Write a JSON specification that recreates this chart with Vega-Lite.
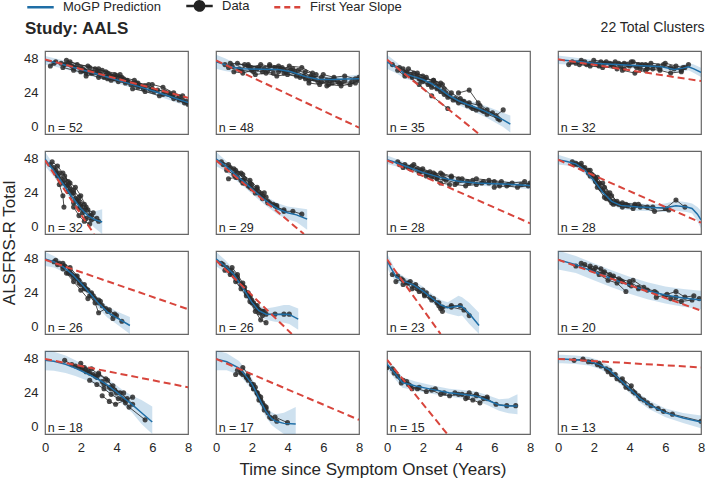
{
"$schema": "https://vega.github.io/schema/vega-lite/v6.json",
"padding": {"left": 0, "top": -9, "right": 4, "bottom": 0},
"title": {"text": "Study: AALS", "anchor": "start", "fontSize": 17, "fontWeight": "bold", "color": "#262626", "dy": 51, "dx": 24},
"data": {"values": [
{"k":"n","r":1,"c":1,"n":"n = 52"},{"k":"n","r":1,"c":2,"n":"n = 48"},{"k":"n","r":1,"c":3,"n":"n = 35"},{"k":"n","r":1,"c":4,"n":"n = 32"},
{"k":"n","r":2,"c":1,"n":"n = 32"},{"k":"n","r":2,"c":2,"n":"n = 29"},{"k":"n","r":2,"c":3,"n":"n = 28"},{"k":"n","r":2,"c":4,"n":"n = 28"},
{"k":"n","r":3,"c":1,"n":"n = 26"},{"k":"n","r":3,"c":2,"n":"n = 26"},{"k":"n","r":3,"c":3,"n":"n = 23"},{"k":"n","r":3,"c":4,"n":"n = 20"},
{"k":"n","r":4,"c":1,"n":"n = 18"},{"k":"n","r":4,"c":2,"n":"n = 17"},{"k":"n","r":4,"c":3,"n":"n = 15"},{"k":"n","r":4,"c":4,"n":"n = 13"},

{"k":"s","r":1,"c":1,"x":0,"s":47.7},{"k":"s","r":1,"c":1,"x":8,"s":20.6},
{"k":"s","r":1,"c":2,"x":0,"s":47},{"k":"s","r":1,"c":2,"x":8,"s":-0.5},
{"k":"s","r":1,"c":3,"x":0,"s":47.5},{"k":"s","r":1,"c":3,"x":5.15,"s":-5},
{"k":"s","r":1,"c":4,"x":0,"s":47.7},{"k":"s","r":1,"c":4,"x":8,"s":32.4},
{"k":"s","r":2,"c":1,"x":0,"s":47},{"k":"s","r":2,"c":1,"x":2.74,"s":-5},
{"k":"s","r":2,"c":2,"x":0,"s":47},{"k":"s","r":2,"c":2,"x":4.92,"s":-5},
{"k":"s","r":2,"c":3,"x":0,"s":47},{"k":"s","r":2,"c":3,"x":8,"s":2.6},
{"k":"s","r":2,"c":4,"x":0,"s":47.5},{"k":"s","r":2,"c":4,"x":8,"s":3},
{"k":"s","r":3,"c":1,"x":0,"s":47.5},{"k":"s","r":3,"c":1,"x":8,"s":12.5},
{"k":"s","r":3,"c":2,"x":0,"s":47},{"k":"s","r":3,"c":2,"x":4.24,"s":-5},
{"k":"s","r":3,"c":3,"x":0,"s":47.7},{"k":"s","r":3,"c":3,"x":3.0,"s":-5},
{"k":"s","r":3,"c":4,"x":0,"s":47.5},{"k":"s","r":3,"c":4,"x":8,"s":11.5},
{"k":"s","r":4,"c":1,"x":0,"s":48},{"k":"s","r":4,"c":1,"x":8,"s":28},
{"k":"s","r":4,"c":2,"x":0,"s":48},{"k":"s","r":4,"c":2,"x":8,"s":5},
{"k":"s","r":4,"c":3,"x":0,"s":47.5},{"k":"s","r":4,"c":3,"x":3.37,"s":-5},
{"k":"s","r":4,"c":4,"x":0,"s":48},{"k":"s","r":4,"c":4,"x":8,"s":42},

{"k":"b","r":1,"c":1,"x":0,"m":47,"lo":44,"hi":50},{"k":"b","r":1,"c":1,"x":1,"m":44,"lo":41.3,"hi":47},{"k":"b","r":1,"c":1,"x":2,"m":40.5,"lo":37.8,"hi":43.2},{"k":"b","r":1,"c":1,"x":3,"m":37,"lo":34.4,"hi":39.6},{"k":"b","r":1,"c":1,"x":4,"m":33.3,"lo":30.8,"hi":35.8},{"k":"b","r":1,"c":1,"x":5,"m":29.5,"lo":27,"hi":32},{"k":"b","r":1,"c":1,"x":6,"m":25.5,"lo":23,"hi":28},{"k":"b","r":1,"c":1,"x":7,"m":21.5,"lo":18.8,"hi":24.2},{"k":"b","r":1,"c":1,"x":8,"m":17.2,"lo":14.2,"hi":20.2},

{"k":"b","r":1,"c":2,"x":0,"m":46,"lo":41,"hi":51},{"k":"b","r":1,"c":2,"x":0.5,"m":44,"lo":39.5,"hi":48.5},{"k":"b","r":1,"c":2,"x":1,"m":42,"lo":38.5,"hi":45.5},{"k":"b","r":1,"c":2,"x":1.5,"m":41,"lo":38.2,"hi":43.8},{"k":"b","r":1,"c":2,"x":2.5,"m":40.7,"lo":38.4,"hi":43},{"k":"b","r":1,"c":2,"x":3.5,"m":40.6,"lo":38.4,"hi":42.8},{"k":"b","r":1,"c":2,"x":4.2,"m":39,"lo":36.7,"hi":41.3},{"k":"b","r":1,"c":2,"x":5,"m":35.5,"lo":33.2,"hi":37.8},{"k":"b","r":1,"c":2,"x":5.7,"m":33.6,"lo":31.4,"hi":35.8},{"k":"b","r":1,"c":2,"x":6.5,"m":33.4,"lo":31.2,"hi":35.6},{"k":"b","r":1,"c":2,"x":7.3,"m":33.8,"lo":31.6,"hi":36},{"k":"b","r":1,"c":2,"x":8,"m":34,"lo":31,"hi":37},

{"k":"b","r":1,"c":3,"x":0,"m":46,"lo":41,"hi":51},{"k":"b","r":1,"c":3,"x":0.5,"m":42,"lo":38,"hi":46},{"k":"b","r":1,"c":3,"x":1,"m":37.5,"lo":34,"hi":41},{"k":"b","r":1,"c":3,"x":1.5,"m":35.5,"lo":32.5,"hi":38.5},{"k":"b","r":1,"c":3,"x":2,"m":33.5,"lo":30.5,"hi":36.5},{"k":"b","r":1,"c":3,"x":2.5,"m":30.5,"lo":27.5,"hi":33.5},{"k":"b","r":1,"c":3,"x":3,"m":26.5,"lo":23.5,"hi":29.5},{"k":"b","r":1,"c":3,"x":3.5,"m":22,"lo":19,"hi":25},{"k":"b","r":1,"c":3,"x":4,"m":18.5,"lo":15.5,"hi":21.5},{"k":"b","r":1,"c":3,"x":4.5,"m":15.8,"lo":12.6,"hi":19},{"k":"b","r":1,"c":3,"x":5,"m":13.5,"lo":10,"hi":17},{"k":"b","r":1,"c":3,"x":5.5,"m":11,"lo":7,"hi":15},{"k":"b","r":1,"c":3,"x":6,"m":8,"lo":3.5,"hi":12.5},{"k":"b","r":1,"c":3,"x":6.5,"m":5,"lo":0,"hi":10},{"k":"b","r":1,"c":3,"x":6.9,"m":2,"lo":-4,"hi":8},

{"k":"b","r":1,"c":4,"x":0,"m":47.5,"lo":44.5,"hi":50.5},{"k":"b","r":1,"c":4,"x":1,"m":46.3,"lo":43.8,"hi":48.8},{"k":"b","r":1,"c":4,"x":2,"m":45,"lo":42.8,"hi":47.2},{"k":"b","r":1,"c":4,"x":3,"m":44.2,"lo":42.2,"hi":46.2},{"k":"b","r":1,"c":4,"x":4,"m":43.5,"lo":41.5,"hi":45.5},{"k":"b","r":1,"c":4,"x":5,"m":43,"lo":41,"hi":45},{"k":"b","r":1,"c":4,"x":5.8,"m":42.5,"lo":40.4,"hi":44.6},{"k":"b","r":1,"c":4,"x":6.5,"m":40.5,"lo":38.3,"hi":42.7},{"k":"b","r":1,"c":4,"x":7,"m":41.5,"lo":39,"hi":44},{"k":"b","r":1,"c":4,"x":7.3,"m":42.5,"lo":40,"hi":45},{"k":"b","r":1,"c":4,"x":7.6,"m":41,"lo":38,"hi":44},{"k":"b","r":1,"c":4,"x":8,"m":38.5,"lo":35.2,"hi":41.8},

{"k":"b","r":2,"c":1,"x":0,"m":48,"lo":43,"hi":53},{"k":"b","r":2,"c":1,"x":0.5,"m":39.5,"lo":35.5,"hi":43.5},{"k":"b","r":2,"c":1,"x":1,"m":30.5,"lo":27,"hi":34},{"k":"b","r":2,"c":1,"x":1.5,"m":21.5,"lo":18.5,"hi":24.5},{"k":"b","r":2,"c":1,"x":2,"m":13,"lo":9.5,"hi":16.5},{"k":"b","r":2,"c":1,"x":2.4,"m":8,"lo":4,"hi":12},{"k":"b","r":2,"c":1,"x":2.8,"m":5,"lo":-1,"hi":11},{"k":"b","r":2,"c":1,"x":3.2,"m":3.5,"lo":-5,"hi":12.5},

{"k":"b","r":2,"c":2,"x":0,"m":48,"lo":43,"hi":53},{"k":"b","r":2,"c":2,"x":0.5,"m":43.5,"lo":39.5,"hi":47.5},{"k":"b","r":2,"c":2,"x":1,"m":37.8,"lo":34,"hi":41.5},{"k":"b","r":2,"c":2,"x":1.5,"m":32.5,"lo":29,"hi":36},{"k":"b","r":2,"c":2,"x":2,"m":27,"lo":23.5,"hi":30.5},{"k":"b","r":2,"c":2,"x":2.5,"m":21.5,"lo":18,"hi":25},{"k":"b","r":2,"c":2,"x":3,"m":16.5,"lo":13,"hi":20},{"k":"b","r":2,"c":2,"x":3.5,"m":12.5,"lo":8.5,"hi":16.5},{"k":"b","r":2,"c":2,"x":4,"m":10,"lo":5.5,"hi":14.5},{"k":"b","r":2,"c":2,"x":4.5,"m":8.5,"lo":3.5,"hi":13.5},{"k":"b","r":2,"c":2,"x":5.1,"m":5.5,"lo":-2,"hi":12.5},

{"k":"b","r":2,"c":3,"x":0,"m":47.5,"lo":44.5,"hi":50.5},{"k":"b","r":2,"c":3,"x":0.5,"m":45.5,"lo":42.8,"hi":48.2},{"k":"b","r":2,"c":3,"x":1,"m":43,"lo":40.5,"hi":45.5},{"k":"b","r":2,"c":3,"x":2,"m":38.5,"lo":36.3,"hi":40.7},{"k":"b","r":2,"c":3,"x":3,"m":34.8,"lo":32.6,"hi":37},{"k":"b","r":2,"c":3,"x":4,"m":32.3,"lo":30.3,"hi":34.3},{"k":"b","r":2,"c":3,"x":5,"m":31,"lo":29,"hi":33},{"k":"b","r":2,"c":3,"x":6,"m":30.5,"lo":28.5,"hi":32.5},{"k":"b","r":2,"c":3,"x":7,"m":30,"lo":27.8,"hi":32.2},{"k":"b","r":2,"c":3,"x":8,"m":29.3,"lo":26.6,"hi":32},

{"k":"b","r":2,"c":4,"x":0,"m":47.5,"lo":44,"hi":51},{"k":"b","r":2,"c":4,"x":0.5,"m":46.2,"lo":43.4,"hi":49},{"k":"b","r":2,"c":4,"x":1,"m":44.5,"lo":42,"hi":47},{"k":"b","r":2,"c":4,"x":1.5,"m":40,"lo":37.5,"hi":42.5},{"k":"b","r":2,"c":4,"x":2,"m":33,"lo":30.5,"hi":35.5},{"k":"b","r":2,"c":4,"x":2.5,"m":24.5,"lo":22,"hi":27},{"k":"b","r":2,"c":4,"x":3,"m":18,"lo":15.5,"hi":20.5},{"k":"b","r":2,"c":4,"x":3.5,"m":15.2,"lo":12.6,"hi":17.8},{"k":"b","r":2,"c":4,"x":4.5,"m":14,"lo":11.5,"hi":16.5},{"k":"b","r":2,"c":4,"x":5.5,"m":13.5,"lo":11,"hi":16},{"k":"b","r":2,"c":4,"x":6,"m":13.5,"lo":10.5,"hi":16.5},{"k":"b","r":2,"c":4,"x":6.6,"m":15,"lo":11.5,"hi":18.5},{"k":"b","r":2,"c":4,"x":7.2,"m":14,"lo":10.5,"hi":17.5},{"k":"b","r":2,"c":4,"x":7.5,"m":13,"lo":9.5,"hi":16.5},{"k":"b","r":2,"c":4,"x":7.8,"m":9,"lo":4,"hi":14},{"k":"b","r":2,"c":4,"x":8,"m":5,"lo":-1,"hi":11.5},

{"k":"b","r":3,"c":1,"x":0,"m":48,"lo":43,"hi":53},{"k":"b","r":3,"c":1,"x":0.5,"m":46,"lo":42,"hi":50},{"k":"b","r":3,"c":1,"x":1,"m":42.5,"lo":39,"hi":46},{"k":"b","r":3,"c":1,"x":1.5,"m":37.5,"lo":34.5,"hi":40.5},{"k":"b","r":3,"c":1,"x":2,"m":31,"lo":28,"hi":34},{"k":"b","r":3,"c":1,"x":2.5,"m":24,"lo":21,"hi":27},{"k":"b","r":3,"c":1,"x":3,"m":16.5,"lo":13,"hi":20},{"k":"b","r":3,"c":1,"x":3.5,"m":10.5,"lo":6.5,"hi":14.5},{"k":"b","r":3,"c":1,"x":4,"m":6.5,"lo":2,"hi":11},{"k":"b","r":3,"c":1,"x":4.75,"m":1,"lo":-5,"hi":7},

{"k":"b","r":3,"c":2,"x":0,"m":48,"lo":43,"hi":53},{"k":"b","r":3,"c":2,"x":0.5,"m":43,"lo":38.5,"hi":47.5},{"k":"b","r":3,"c":2,"x":1,"m":37,"lo":33.5,"hi":40.5},{"k":"b","r":3,"c":2,"x":1.5,"m":27.5,"lo":24,"hi":31},{"k":"b","r":3,"c":2,"x":2,"m":17.5,"lo":14,"hi":21},{"k":"b","r":3,"c":2,"x":2.4,"m":11.5,"lo":8,"hi":15},{"k":"b","r":3,"c":2,"x":2.8,"m":9,"lo":5,"hi":13},{"k":"b","r":3,"c":2,"x":3.3,"m":8.8,"lo":3.6,"hi":14},{"k":"b","r":3,"c":2,"x":3.8,"m":9,"lo":3,"hi":15.5},{"k":"b","r":3,"c":2,"x":4.1,"m":8.8,"lo":2,"hi":15.5},{"k":"b","r":3,"c":2,"x":4.6,"m":5.5,"lo":-2,"hi":13},

{"k":"b","r":3,"c":3,"x":0,"m":47,"lo":42,"hi":52},{"k":"b","r":3,"c":3,"x":0.2,"m":42,"lo":37,"hi":47},{"k":"b","r":3,"c":3,"x":0.5,"m":35.5,"lo":31.5,"hi":39.5},{"k":"b","r":3,"c":3,"x":1,"m":32,"lo":29,"hi":35},{"k":"b","r":3,"c":3,"x":1.5,"m":29.5,"lo":26.5,"hi":32.5},{"k":"b","r":3,"c":3,"x":2,"m":25.5,"lo":22.5,"hi":28.5},{"k":"b","r":3,"c":3,"x":2.5,"m":20.5,"lo":17.5,"hi":23.5},{"k":"b","r":3,"c":3,"x":3,"m":15.5,"lo":12,"hi":19},{"k":"b","r":3,"c":3,"x":3.4,"m":13.5,"lo":9.5,"hi":17.5},{"k":"b","r":3,"c":3,"x":4,"m":14.8,"lo":7.6,"hi":22},{"k":"b","r":3,"c":3,"x":4.2,"m":14.5,"lo":8,"hi":21},{"k":"b","r":3,"c":3,"x":4.6,"m":9.5,"lo":2,"hi":17},{"k":"b","r":3,"c":3,"x":5.15,"m":1,"lo":-5,"hi":10},

{"k":"b","r":3,"c":4,"x":0,"m":47.5,"lo":40.5,"hi":54},{"k":"b","r":3,"c":4,"x":1,"m":44,"lo":38,"hi":50},{"k":"b","r":3,"c":4,"x":2,"m":39,"lo":33,"hi":45},{"k":"b","r":3,"c":4,"x":3,"m":34,"lo":28,"hi":40},{"k":"b","r":3,"c":4,"x":4,"m":29.5,"lo":23.5,"hi":35.5},{"k":"b","r":3,"c":4,"x":5,"m":25.5,"lo":19.5,"hi":31.5},{"k":"b","r":3,"c":4,"x":6,"m":22.5,"lo":16.5,"hi":28.5},{"k":"b","r":3,"c":4,"x":7,"m":20.5,"lo":14.2,"hi":26.8},{"k":"b","r":3,"c":4,"x":8,"m":19,"lo":12.5,"hi":25.5},

{"k":"b","r":4,"c":1,"x":0,"m":47,"lo":40,"hi":54},{"k":"b","r":4,"c":1,"x":0.5,"m":46.3,"lo":39.6,"hi":53},{"k":"b","r":4,"c":1,"x":1.15,"m":44.2,"lo":38,"hi":50.5},{"k":"b","r":4,"c":1,"x":1.7,"m":41.5,"lo":36,"hi":47},{"k":"b","r":4,"c":1,"x":2.28,"m":38.1,"lo":33.2,"hi":43},{"k":"b","r":4,"c":1,"x":3.02,"m":33.3,"lo":28.8,"hi":37.8},{"k":"b","r":4,"c":1,"x":3.5,"m":29.5,"lo":25,"hi":34},{"k":"b","r":4,"c":1,"x":3.95,"m":25.1,"lo":20.4,"hi":29.8},{"k":"b","r":4,"c":1,"x":4.4,"m":20.5,"lo":15.5,"hi":25.5},{"k":"b","r":4,"c":1,"x":4.88,"m":15.7,"lo":10,"hi":22},{"k":"b","r":4,"c":1,"x":5.4,"m":10,"lo":2,"hi":19},{"k":"b","r":4,"c":1,"x":6,"m":3.5,"lo":-5,"hi":14.5},

{"k":"b","r":4,"c":2,"x":0,"m":48,"lo":40,"hi":54},{"k":"b","r":4,"c":2,"x":0.6,"m":46,"lo":40,"hi":52},{"k":"b","r":4,"c":2,"x":1.29,"m":41.6,"lo":36.7,"hi":46.5},{"k":"b","r":4,"c":2,"x":1.7,"m":35.5,"lo":31,"hi":40},{"k":"b","r":4,"c":2,"x":2.03,"m":29.9,"lo":25.8,"hi":34},{"k":"b","r":4,"c":2,"x":2.4,"m":20.5,"lo":16.5,"hi":24.5},{"k":"b","r":4,"c":2,"x":2.78,"m":11.1,"lo":7.2,"hi":15},{"k":"b","r":4,"c":2,"x":3.1,"m":6,"lo":1.5,"hi":10.5},{"k":"b","r":4,"c":2,"x":3.34,"m":4,"lo":-1,"hi":9},{"k":"b","r":4,"c":2,"x":3.8,"m":2.5,"lo":-5,"hi":10},{"k":"b","r":4,"c":2,"x":4.46,"m":2.1,"lo":-5,"hi":14},

{"k":"b","r":4,"c":3,"x":0,"m":44.5,"lo":41,"hi":48},{"k":"b","r":4,"c":3,"x":0.4,"m":38.5,"lo":34.5,"hi":42.5},{"k":"b","r":4,"c":3,"x":0.86,"m":31.3,"lo":27.6,"hi":35},{"k":"b","r":4,"c":3,"x":1.6,"m":28.9,"lo":25.8,"hi":32},{"k":"b","r":4,"c":3,"x":2.5,"m":26.5,"lo":23.5,"hi":29.5},{"k":"b","r":4,"c":3,"x":3.47,"m":24.2,"lo":21.4,"hi":27},{"k":"b","r":4,"c":3,"x":4.2,"m":23,"lo":20,"hi":26},{"k":"b","r":4,"c":3,"x":4.96,"m":21.9,"lo":18.8,"hi":25},{"k":"b","r":4,"c":3,"x":5.6,"m":19,"lo":15.5,"hi":22.5},{"k":"b","r":4,"c":3,"x":6.27,"m":15.5,"lo":11.5,"hi":19.5},{"k":"b","r":4,"c":3,"x":6.8,"m":14.8,"lo":9.6,"hi":20},{"k":"b","r":4,"c":3,"x":7.3,"m":14.8,"lo":9,"hi":23},

{"k":"b","r":4,"c":4,"x":0,"m":48,"lo":45,"hi":51},{"k":"b","r":4,"c":4,"x":0.24,"m":48,"lo":45,"hi":51},{"k":"b","r":4,"c":4,"x":1,"m":47.5,"lo":44.5,"hi":50.5},{"k":"b","r":4,"c":4,"x":1.73,"m":46.3,"lo":43.3,"hi":49.3},{"k":"b","r":4,"c":4,"x":2.3,"m":44,"lo":41,"hi":47},{"k":"b","r":4,"c":4,"x":2.85,"m":40.4,"lo":37.4,"hi":43.4},{"k":"b","r":4,"c":4,"x":3.5,"m":33,"lo":30,"hi":36},{"k":"b","r":4,"c":4,"x":4.16,"m":25.1,"lo":22.1,"hi":28.1},{"k":"b","r":4,"c":4,"x":4.6,"m":20,"lo":17,"hi":23},{"k":"b","r":4,"c":4,"x":5.09,"m":15.7,"lo":12.7,"hi":18.7},{"k":"b","r":4,"c":4,"x":6.02,"m":9.9,"lo":6.8,"hi":13},{"k":"b","r":4,"c":4,"x":7,"m":6.3,"lo":2.8,"hi":9.8},{"k":"b","r":4,"c":4,"x":8,"m":3.5,"lo":-1,"hi":8},

{"k":"d","r":1,"c":1,"i":"a","x":0.3,"y":43},{"k":"d","r":1,"c":1,"i":"a","x":0.6,"y":46},{"k":"d","r":1,"c":1,"i":"a","x":1.1,"y":44},{"k":"d","r":1,"c":1,"i":"a","x":1.6,"y":42},{"k":"d","r":1,"c":1,"i":"a","x":2.2,"y":40},
{"k":"d","r":1,"c":1,"i":"b","x":0.9,"y":45},{"k":"d","r":1,"c":1,"i":"b","x":1.5,"y":43},{"k":"d","r":1,"c":1,"i":"b","x":2.0,"y":42},{"k":"d","r":1,"c":1,"i":"b","x":2.6,"y":39},{"k":"d","r":1,"c":1,"i":"b","x":3.1,"y":37},{"k":"d","r":1,"c":1,"i":"b","x":3.7,"y":36},
{"k":"d","r":1,"c":1,"i":"c","x":1.2,"y":47},{"k":"d","r":1,"c":1,"i":"c","x":1.8,"y":44},{"k":"d","r":1,"c":1,"i":"c","x":2.4,"y":43},{"k":"d","r":1,"c":1,"i":"c","x":3.0,"y":41},{"k":"d","r":1,"c":1,"i":"c","x":3.5,"y":38},
{"k":"d","r":1,"c":1,"i":"d","x":2.0,"y":39},{"k":"d","r":1,"c":1,"i":"d","x":2.6,"y":38},{"k":"d","r":1,"c":1,"i":"d","x":3.3,"y":35},{"k":"d","r":1,"c":1,"i":"d","x":3.9,"y":34},{"k":"d","r":1,"c":1,"i":"d","x":4.5,"y":31},{"k":"d","r":1,"c":1,"i":"d","x":5.0,"y":30},
{"k":"d","r":1,"c":1,"i":"e","x":2.8,"y":41},{"k":"d","r":1,"c":1,"i":"e","x":3.4,"y":39},{"k":"d","r":1,"c":1,"i":"e","x":4.0,"y":36},{"k":"d","r":1,"c":1,"i":"e","x":4.6,"y":33},{"k":"d","r":1,"c":1,"i":"e","x":5.2,"y":31},
{"k":"d","r":1,"c":1,"i":"f","x":3.5,"y":34},{"k":"d","r":1,"c":1,"i":"f","x":4.1,"y":32},{"k":"d","r":1,"c":1,"i":"f","x":4.8,"y":30},{"k":"d","r":1,"c":1,"i":"f","x":5.5,"y":27},{"k":"d","r":1,"c":1,"i":"f","x":6.1,"y":25},
{"k":"d","r":1,"c":1,"i":"g","x":4.3,"y":35},{"k":"d","r":1,"c":1,"i":"g","x":5.0,"y":33},{"k":"d","r":1,"c":1,"i":"g","x":5.6,"y":29},{"k":"d","r":1,"c":1,"i":"g","x":6.3,"y":26},{"k":"d","r":1,"c":1,"i":"g","x":6.9,"y":24},{"k":"d","r":1,"c":1,"i":"g","x":7.5,"y":21},
{"k":"d","r":1,"c":1,"i":"h","x":5.2,"y":28},{"k":"d","r":1,"c":1,"i":"h","x":5.9,"y":26},{"k":"d","r":1,"c":1,"i":"h","x":6.6,"y":23},{"k":"d","r":1,"c":1,"i":"h","x":7.2,"y":20},{"k":"d","r":1,"c":1,"i":"h","x":7.8,"y":17},{"k":"d","r":1,"c":1,"i":"h","x":8.0,"y":16},
{"k":"d","r":1,"c":1,"i":"i","x":1.0,"y":42},{"k":"d","r":1,"c":1,"i":"i","x":1.6,"y":40},{"k":"d","r":1,"c":1,"i":"i","x":2.3,"y":38},{"k":"d","r":1,"c":1,"i":"i","x":3.0,"y":35},{"k":"d","r":1,"c":1,"i":"i","x":3.7,"y":33},
{"k":"d","r":1,"c":1,"i":"j","x":6.0,"y":30},{"k":"d","r":1,"c":1,"i":"j","x":6.6,"y":28},{"k":"d","r":1,"c":1,"i":"j","x":7.2,"y":24},{"k":"d","r":1,"c":1,"i":"j","x":7.7,"y":22},
{"k":"d","r":1,"c":1,"i":"k","x":3.9,"y":37},{"k":"d","r":1,"c":1,"i":"k","x":4.4,"y":34},{"k":"d","r":1,"c":1,"i":"k","x":5.1,"y":31},{"k":"d","r":1,"c":1,"i":"k","x":5.8,"y":30},
{"k":"d","r":1,"c":1,"i":"l","x":7.0,"y":23},{"k":"d","r":1,"c":1,"i":"l","x":7.5,"y":19},{"k":"d","r":1,"c":1,"i":"l","x":7.9,"y":18},
{"k":"d","r":1,"c":1,"i":"m","x":0.5,"y":45},{"k":"d","r":1,"c":1,"i":"m","x":1.3,"y":45},{"k":"d","r":1,"c":1,"i":"m","x":2.1,"y":41},{"k":"d","r":1,"c":1,"i":"m","x":2.9,"y":39},{"k":"d","r":1,"c":1,"i":"m","x":3.6,"y":37},{"k":"d","r":1,"c":1,"i":"m","x":4.2,"y":35},
{"k":"d","r":1,"c":1,"i":"n","x":2.3,"y":36},{"k":"d","r":1,"c":1,"i":"n","x":3.0,"y":38},{"k":"d","r":1,"c":1,"i":"n","x":3.8,"y":35},{"k":"d","r":1,"c":1,"i":"n","x":4.6,"y":32},{"k":"d","r":1,"c":1,"i":"n","x":5.3,"y":29},{"k":"d","r":1,"c":1,"i":"n","x":6.0,"y":27},{"k":"d","r":1,"c":1,"i":"n","x":6.7,"y":25},
{"k":"d","r":1,"c":1,"i":"o","x":4.9,"y":27},{"k":"d","r":1,"c":1,"i":"o","x":5.6,"y":25},{"k":"d","r":1,"c":1,"i":"o","x":6.4,"y":22},{"k":"d","r":1,"c":1,"i":"o","x":7.1,"y":22},{"k":"d","r":1,"c":1,"i":"o","x":7.7,"y":19},
{"k":"d","r":1,"c":1,"i":"p","x":1.4,"y":46},{"k":"d","r":1,"c":1,"i":"p","x":2.5,"y":42},{"k":"d","r":1,"c":1,"i":"p","x":3.2,"y":40},{"k":"d","r":1,"c":1,"i":"p","x":4.2,"y":37},

{"k":"d","r":1,"c":2,"i":"a","x":0.5,"y":44},{"k":"d","r":1,"c":2,"i":"a","x":0.9,"y":43},{"k":"d","r":1,"c":2,"i":"a","x":1.3,"y":41},{"k":"d","r":1,"c":2,"i":"a","x":1.8,"y":43},{"k":"d","r":1,"c":2,"i":"a","x":2.3,"y":41},
{"k":"d","r":1,"c":2,"i":"b","x":1.0,"y":39},{"k":"d","r":1,"c":2,"i":"b","x":1.5,"y":38},{"k":"d","r":1,"c":2,"i":"b","x":2.0,"y":40},{"k":"d","r":1,"c":2,"i":"b","x":2.6,"y":39},{"k":"d","r":1,"c":2,"i":"b","x":3.2,"y":38},
{"k":"d","r":1,"c":2,"i":"c","x":1.8,"y":44},{"k":"d","r":1,"c":2,"i":"c","x":2.4,"y":42},{"k":"d","r":1,"c":2,"i":"c","x":3.0,"y":43},{"k":"d","r":1,"c":2,"i":"c","x":3.6,"y":41},{"k":"d","r":1,"c":2,"i":"c","x":4.2,"y":40},
{"k":"d","r":1,"c":2,"i":"d","x":2.2,"y":37},{"k":"d","r":1,"c":2,"i":"d","x":2.8,"y":38},{"k":"d","r":1,"c":2,"i":"d","x":3.4,"y":36},{"k":"d","r":1,"c":2,"i":"d","x":4.0,"y":37},{"k":"d","r":1,"c":2,"i":"d","x":4.7,"y":35},
{"k":"d","r":1,"c":2,"i":"e","x":3.0,"y":44},{"k":"d","r":1,"c":2,"i":"e","x":3.7,"y":42},{"k":"d","r":1,"c":2,"i":"e","x":4.3,"y":41},{"k":"d","r":1,"c":2,"i":"e","x":5.0,"y":39},{"k":"d","r":1,"c":2,"i":"e","x":5.6,"y":37},
{"k":"d","r":1,"c":2,"i":"f","x":3.8,"y":38},{"k":"d","r":1,"c":2,"i":"f","x":4.5,"y":36},{"k":"d","r":1,"c":2,"i":"f","x":5.2,"y":33},{"k":"d","r":1,"c":2,"i":"f","x":5.9,"y":32},{"k":"d","r":1,"c":2,"i":"f","x":6.5,"y":31},
{"k":"d","r":1,"c":2,"i":"g","x":4.6,"y":40},{"k":"d","r":1,"c":2,"i":"g","x":5.3,"y":36},{"k":"d","r":1,"c":2,"i":"g","x":5.9,"y":35},{"k":"d","r":1,"c":2,"i":"g","x":6.6,"y":34},{"k":"d","r":1,"c":2,"i":"g","x":7.2,"y":33},
{"k":"d","r":1,"c":2,"i":"h","x":5.2,"y":31},{"k":"d","r":1,"c":2,"i":"h","x":5.8,"y":30},{"k":"d","r":1,"c":2,"i":"h","x":6.4,"y":33},{"k":"d","r":1,"c":2,"i":"h","x":7.0,"y":31},{"k":"d","r":1,"c":2,"i":"h","x":7.6,"y":32},
{"k":"d","r":1,"c":2,"i":"i","x":6.0,"y":37},{"k":"d","r":1,"c":2,"i":"i","x":6.6,"y":35},{"k":"d","r":1,"c":2,"i":"i","x":7.2,"y":36},{"k":"d","r":1,"c":2,"i":"i","x":7.8,"y":34},{"k":"d","r":1,"c":2,"i":"i","x":8.0,"y":35},
{"k":"d","r":1,"c":2,"i":"j","x":1.2,"y":45},{"k":"d","r":1,"c":2,"i":"j","x":1.9,"y":42},{"k":"d","r":1,"c":2,"i":"j","x":2.5,"y":44},{"k":"d","r":1,"c":2,"i":"j","x":3.3,"y":42},
{"k":"d","r":1,"c":2,"i":"k","x":6.2,"y":29},{"k":"d","r":1,"c":2,"i":"k","x":6.9,"y":31},{"k":"d","r":1,"c":2,"i":"k","x":7.5,"y":30},{"k":"d","r":1,"c":2,"i":"k","x":8.0,"y":33},
{"k":"d","r":1,"c":2,"i":"l","x":0.7,"y":42},{"k":"d","r":1,"c":2,"i":"l","x":1.4,"y":40},{"k":"d","r":1,"c":2,"i":"l","x":2.1,"y":39},
{"k":"d","r":1,"c":2,"i":"m","x":0.8,"y":45},{"k":"d","r":1,"c":2,"i":"m","x":1.6,"y":44},{"k":"d","r":1,"c":2,"i":"m","x":2.7,"y":41},{"k":"d","r":1,"c":2,"i":"m","x":3.5,"y":43},{"k":"d","r":1,"c":2,"i":"m","x":4.4,"y":39},{"k":"d","r":1,"c":2,"i":"m","x":5.4,"y":35},
{"k":"d","r":1,"c":2,"i":"n","x":2.9,"y":40},{"k":"d","r":1,"c":2,"i":"n","x":3.9,"y":39},{"k":"d","r":1,"c":2,"i":"n","x":4.9,"y":36},{"k":"d","r":1,"c":2,"i":"n","x":5.5,"y":34},{"k":"d","r":1,"c":2,"i":"n","x":6.2,"y":33},{"k":"d","r":1,"c":2,"i":"n","x":6.8,"y":32},
{"k":"d","r":1,"c":2,"i":"o","x":5.0,"y":34},{"k":"d","r":1,"c":2,"i":"o","x":5.7,"y":32},{"k":"d","r":1,"c":2,"i":"o","x":6.3,"y":30},{"k":"d","r":1,"c":2,"i":"o","x":7.0,"y":29},{"k":"d","r":1,"c":2,"i":"o","x":7.8,"y":31},
{"k":"d","r":1,"c":2,"i":"p","x":3.5,"y":39},{"k":"d","r":1,"c":2,"i":"p","x":4.1,"y":43},{"k":"d","r":1,"c":2,"i":"p","x":4.8,"y":42},{"k":"d","r":1,"c":2,"i":"p","x":5.4,"y":38},

{"k":"d","r":1,"c":3,"i":"a","x":0.3,"y":44},{"k":"d","r":1,"c":3,"i":"a","x":0.7,"y":42},{"k":"d","r":1,"c":3,"i":"a","x":1.1,"y":39},{"k":"d","r":1,"c":3,"i":"a","x":1.5,"y":38},{"k":"d","r":1,"c":3,"i":"a","x":2.0,"y":36},
{"k":"d","r":1,"c":3,"i":"b","x":0.6,"y":40},{"k":"d","r":1,"c":3,"i":"b","x":1.0,"y":36},{"k":"d","r":1,"c":3,"i":"b","x":1.4,"y":35},{"k":"d","r":1,"c":3,"i":"b","x":1.9,"y":33},{"k":"d","r":1,"c":3,"i":"b","x":2.4,"y":31},{"k":"d","r":1,"c":3,"i":"b","x":2.9,"y":29},
{"k":"d","r":1,"c":3,"i":"c","x":1.2,"y":41},{"k":"d","r":1,"c":3,"i":"c","x":1.7,"y":38},{"k":"d","r":1,"c":3,"i":"c","x":2.2,"y":35},{"k":"d","r":1,"c":3,"i":"c","x":2.7,"y":31},{"k":"d","r":1,"c":3,"i":"c","x":3.2,"y":27},
{"k":"d","r":1,"c":3,"i":"d","x":1.8,"y":34},{"k":"d","r":1,"c":3,"i":"d","x":2.3,"y":30},{"k":"d","r":1,"c":3,"i":"d","x":2.8,"y":27},{"k":"d","r":1,"c":3,"i":"d","x":3.3,"y":24},{"k":"d","r":1,"c":3,"i":"d","x":3.8,"y":20},{"k":"d","r":1,"c":3,"i":"d","x":4.3,"y":18},
{"k":"d","r":1,"c":3,"i":"e","x":2.6,"y":33},{"k":"d","r":1,"c":3,"i":"e","x":3.1,"y":30},{"k":"d","r":1,"c":3,"i":"e","x":3.6,"y":24},{"k":"d","r":1,"c":3,"i":"e","x":4.1,"y":20},{"k":"d","r":1,"c":3,"i":"e","x":4.6,"y":17},{"k":"d","r":1,"c":3,"i":"e","x":5.2,"y":15},
{"k":"d","r":1,"c":3,"i":"f","x":3.5,"y":22},{"k":"d","r":1,"c":3,"i":"f","x":4.0,"y":17},{"k":"d","r":1,"c":3,"i":"f","x":4.5,"y":15},{"k":"d","r":1,"c":3,"i":"f","x":5.0,"y":12},{"k":"d","r":1,"c":3,"i":"f","x":5.6,"y":9},{"k":"d","r":1,"c":3,"i":"f","x":6.2,"y":6},
{"k":"d","r":1,"c":3,"i":"g","x":4.0,"y":24},{"k":"d","r":1,"c":3,"i":"g","x":4.6,"y":26},{"k":"d","r":1,"c":3,"i":"g","x":5.1,"y":17},{"k":"d","r":1,"c":3,"i":"g","x":5.6,"y":12},{"k":"d","r":1,"c":3,"i":"g","x":6.1,"y":8},{"k":"d","r":1,"c":3,"i":"g","x":6.5,"y":12},
{"k":"d","r":1,"c":3,"i":"h","x":1.0,"y":38},{"k":"d","r":1,"c":3,"i":"h","x":1.8,"y":30},{"k":"d","r":1,"c":3,"i":"h","x":2.5,"y":22},{"k":"d","r":1,"c":3,"i":"h","x":3.4,"y":13},
{"k":"d","r":1,"c":3,"i":"i","x":4.8,"y":13},{"k":"d","r":1,"c":3,"i":"i","x":5.4,"y":11},{"k":"d","r":1,"c":3,"i":"i","x":5.9,"y":10},{"k":"d","r":1,"c":3,"i":"i","x":6.3,"y":5},
{"k":"d","r":1,"c":3,"i":"j","x":0.9,"y":41},{"k":"d","r":1,"c":3,"i":"j","x":1.3,"y":37},{"k":"d","r":1,"c":3,"i":"j","x":1.7,"y":36},{"k":"d","r":1,"c":3,"i":"j","x":2.1,"y":34},{"k":"d","r":1,"c":3,"i":"j","x":2.6,"y":33},{"k":"d","r":1,"c":3,"i":"j","x":3.0,"y":31},
{"k":"d","r":1,"c":3,"i":"k","x":2.0,"y":32},{"k":"d","r":1,"c":3,"i":"k","x":2.5,"y":28},{"k":"d","r":1,"c":3,"i":"k","x":3.0,"y":25},{"k":"d","r":1,"c":3,"i":"k","x":3.4,"y":21},{"k":"d","r":1,"c":3,"i":"k","x":3.9,"y":19},{"k":"d","r":1,"c":3,"i":"k","x":4.5,"y":16},
{"k":"d","r":1,"c":3,"i":"l","x":3.2,"y":23},{"k":"d","r":1,"c":3,"i":"l","x":3.7,"y":19},{"k":"d","r":1,"c":3,"i":"l","x":4.2,"y":18},{"k":"d","r":1,"c":3,"i":"l","x":4.7,"y":14},{"k":"d","r":1,"c":3,"i":"l","x":5.3,"y":12},

{"k":"d","r":1,"c":4,"i":"a","x":0.8,"y":46},{"k":"d","r":1,"c":4,"i":"a","x":1.3,"y":47},{"k":"d","r":1,"c":4,"i":"a","x":1.8,"y":45},{"k":"d","r":1,"c":4,"i":"a","x":2.4,"y":46},{"k":"d","r":1,"c":4,"i":"a","x":3.0,"y":44},
{"k":"d","r":1,"c":4,"i":"b","x":1.2,"y":44},{"k":"d","r":1,"c":4,"i":"b","x":1.8,"y":43},{"k":"d","r":1,"c":4,"i":"b","x":2.5,"y":42},{"k":"d","r":1,"c":4,"i":"b","x":3.1,"y":43},{"k":"d","r":1,"c":4,"i":"b","x":3.7,"y":41},
{"k":"d","r":1,"c":4,"i":"c","x":2.0,"y":47},{"k":"d","r":1,"c":4,"i":"c","x":2.7,"y":46},{"k":"d","r":1,"c":4,"i":"c","x":3.4,"y":45},{"k":"d","r":1,"c":4,"i":"c","x":4.1,"y":46},{"k":"d","r":1,"c":4,"i":"c","x":4.7,"y":44},
{"k":"d","r":1,"c":4,"i":"d","x":3.0,"y":44},{"k":"d","r":1,"c":4,"i":"d","x":3.7,"y":45},{"k":"d","r":1,"c":4,"i":"d","x":4.4,"y":42},{"k":"d","r":1,"c":4,"i":"d","x":5.0,"y":43},{"k":"d","r":1,"c":4,"i":"d","x":5.7,"y":41},
{"k":"d","r":1,"c":4,"i":"e","x":4.2,"y":46},{"k":"d","r":1,"c":4,"i":"e","x":4.9,"y":44},{"k":"d","r":1,"c":4,"i":"e","x":5.6,"y":43},{"k":"d","r":1,"c":4,"i":"e","x":6.3,"y":42},{"k":"d","r":1,"c":4,"i":"e","x":6.9,"y":40},
{"k":"d","r":1,"c":4,"i":"f","x":5.0,"y":41},{"k":"d","r":1,"c":4,"i":"f","x":5.7,"y":40},{"k":"d","r":1,"c":4,"i":"f","x":6.3,"y":38},{"k":"d","r":1,"c":4,"i":"f","x":6.9,"y":39},
{"k":"d","r":1,"c":4,"i":"g","x":1.5,"y":46},{"k":"d","r":1,"c":4,"i":"g","x":2.2,"y":44},{"k":"d","r":1,"c":4,"i":"g","x":2.9,"y":45},{"k":"d","r":1,"c":4,"i":"g","x":3.5,"y":43},
{"k":"d","r":1,"c":4,"i":"h","x":6.0,"y":45},{"k":"d","r":1,"c":4,"i":"h","x":6.6,"y":43},{"k":"d","r":1,"c":4,"i":"h","x":7.0,"y":42},{"k":"d","r":1,"c":4,"i":"h","x":7.3,"y":44},
{"k":"d","r":1,"c":4,"i":"i","x":3.6,"y":40},{"k":"d","r":1,"c":4,"i":"i","x":4.3,"y":38},{"k":"d","r":1,"c":4,"i":"i","x":4.9,"y":40},
{"k":"d","r":1,"c":4,"i":"j","x":0.6,"y":44},{"k":"d","r":1,"c":4,"i":"j","x":1.0,"y":45},{"k":"d","r":1,"c":4,"i":"j","x":1.6,"y":44},{"k":"d","r":1,"c":4,"i":"j","x":2.6,"y":45},{"k":"d","r":1,"c":4,"i":"j","x":3.2,"y":46},{"k":"d","r":1,"c":4,"i":"j","x":3.9,"y":44},
{"k":"d","r":1,"c":4,"i":"k","x":4.5,"y":44},{"k":"d","r":1,"c":4,"i":"k","x":5.2,"y":45},{"k":"d","r":1,"c":4,"i":"k","x":5.9,"y":44},{"k":"d","r":1,"c":4,"i":"k","x":6.5,"y":41},{"k":"d","r":1,"c":4,"i":"k","x":7.1,"y":42},
{"k":"d","r":1,"c":4,"i":"l","x":2.3,"y":43},{"k":"d","r":1,"c":4,"i":"l","x":3.3,"y":41},{"k":"d","r":1,"c":4,"i":"l","x":4.0,"y":43},{"k":"d","r":1,"c":4,"i":"l","x":4.6,"y":41},{"k":"d","r":1,"c":4,"i":"l","x":5.3,"y":41},

{"k":"d","r":2,"c":1,"i":"a","x":0.3,"y":44},{"k":"d","r":2,"c":1,"i":"a","x":0.6,"y":40},{"k":"d","r":2,"c":1,"i":"a","x":0.9,"y":34},{"k":"d","r":2,"c":1,"i":"a","x":1.2,"y":29},{"k":"d","r":2,"c":1,"i":"a","x":1.5,"y":24},
{"k":"d","r":2,"c":1,"i":"b","x":0.5,"y":42},{"k":"d","r":2,"c":1,"i":"b","x":0.8,"y":38},{"k":"d","r":2,"c":1,"i":"b","x":1.1,"y":33},{"k":"d","r":2,"c":1,"i":"b","x":1.4,"y":27},{"k":"d","r":2,"c":1,"i":"b","x":1.7,"y":20},{"k":"d","r":2,"c":1,"i":"b","x":2.0,"y":14},
{"k":"d","r":2,"c":1,"i":"c","x":0.7,"y":36},{"k":"d","r":2,"c":1,"i":"c","x":1.0,"y":31},{"k":"d","r":2,"c":1,"i":"c","x":1.3,"y":25},{"k":"d","r":2,"c":1,"i":"c","x":1.6,"y":17},{"k":"d","r":2,"c":1,"i":"c","x":1.9,"y":13},
{"k":"d","r":2,"c":1,"i":"d","x":0.6,"y":38},{"k":"d","r":2,"c":1,"i":"d","x":0.8,"y":30},{"k":"d","r":2,"c":1,"i":"d","x":1.0,"y":22},{"k":"d","r":2,"c":1,"i":"d","x":1.06,"y":14},
{"k":"d","r":2,"c":1,"i":"e","x":1.3,"y":30},{"k":"d","r":2,"c":1,"i":"e","x":1.6,"y":24},{"k":"d","r":2,"c":1,"i":"e","x":1.9,"y":18},{"k":"d","r":2,"c":1,"i":"e","x":2.2,"y":12},{"k":"d","r":2,"c":1,"i":"e","x":2.5,"y":8},
{"k":"d","r":2,"c":1,"i":"f","x":1.8,"y":19},{"k":"d","r":2,"c":1,"i":"f","x":2.1,"y":10},{"k":"d","r":2,"c":1,"i":"f","x":2.3,"y":6},{"k":"d","r":2,"c":1,"i":"f","x":2.6,"y":5},{"k":"d","r":2,"c":1,"i":"f","x":3.0,"y":4},
{"k":"d","r":2,"c":1,"i":"g","x":1.6,"y":14},{"k":"d","r":2,"c":1,"i":"g","x":1.9,"y":8},{"k":"d","r":2,"c":1,"i":"g","x":2.2,"y":4},{"k":"d","r":2,"c":1,"i":"g","x":2.5,"y":2},
{"k":"d","r":2,"c":1,"i":"h","x":2.0,"y":16},{"k":"d","r":2,"c":1,"i":"h","x":2.3,"y":14},{"k":"d","r":2,"c":1,"i":"h","x":2.6,"y":8},{"k":"d","r":2,"c":1,"i":"h","x":2.9,"y":6},
{"k":"d","r":2,"c":1,"i":"i","x":0.4,"y":46},{"k":"d","r":2,"c":1,"i":"i","x":0.7,"y":43},{"k":"d","r":2,"c":1,"i":"i","x":1.0,"y":38},{"k":"d","r":2,"c":1,"i":"i","x":1.3,"y":32},{"k":"d","r":2,"c":1,"i":"i","x":1.6,"y":26},{"k":"d","r":2,"c":1,"i":"i","x":1.9,"y":21},{"k":"d","r":2,"c":1,"i":"i","x":2.2,"y":16},
{"k":"d","r":2,"c":1,"i":"j","x":1.1,"y":36},{"k":"d","r":2,"c":1,"i":"j","x":1.4,"y":31},{"k":"d","r":2,"c":1,"i":"j","x":1.7,"y":28},{"k":"d","r":2,"c":1,"i":"j","x":2.0,"y":22},{"k":"d","r":2,"c":1,"i":"j","x":2.4,"y":12},{"k":"d","r":2,"c":1,"i":"j","x":2.7,"y":10},

{"k":"d","r":2,"c":2,"i":"a","x":0.4,"y":44},{"k":"d","r":2,"c":2,"i":"a","x":0.8,"y":42},{"k":"d","r":2,"c":2,"i":"a","x":1.2,"y":38},{"k":"d","r":2,"c":2,"i":"a","x":1.6,"y":34},{"k":"d","r":2,"c":2,"i":"a","x":2.0,"y":30},
{"k":"d","r":2,"c":2,"i":"b","x":0.6,"y":40},{"k":"d","r":2,"c":2,"i":"b","x":1.0,"y":37},{"k":"d","r":2,"c":2,"i":"b","x":1.4,"y":33},{"k":"d","r":2,"c":2,"i":"b","x":1.8,"y":29},{"k":"d","r":2,"c":2,"i":"b","x":2.2,"y":26},{"k":"d","r":2,"c":2,"i":"b","x":2.6,"y":22},
{"k":"d","r":2,"c":2,"i":"c","x":1.0,"y":41},{"k":"d","r":2,"c":2,"i":"c","x":1.4,"y":38},{"k":"d","r":2,"c":2,"i":"c","x":1.9,"y":33},{"k":"d","r":2,"c":2,"i":"c","x":2.3,"y":28},{"k":"d","r":2,"c":2,"i":"c","x":2.8,"y":21},
{"k":"d","r":2,"c":2,"i":"d","x":1.5,"y":31},{"k":"d","r":2,"c":2,"i":"d","x":1.9,"y":28},{"k":"d","r":2,"c":2,"i":"d","x":2.4,"y":24},{"k":"d","r":2,"c":2,"i":"d","x":2.9,"y":17},{"k":"d","r":2,"c":2,"i":"d","x":3.3,"y":15},
{"k":"d","r":2,"c":2,"i":"e","x":0.7,"y":34},{"k":"d","r":2,"c":2,"i":"e","x":1.1,"y":35},{"k":"d","r":2,"c":2,"i":"e","x":1.5,"y":33},
{"k":"d","r":2,"c":2,"i":"f","x":2.2,"y":24},{"k":"d","r":2,"c":2,"i":"f","x":2.6,"y":20},{"k":"d","r":2,"c":2,"i":"f","x":3.0,"y":17},{"k":"d","r":2,"c":2,"i":"f","x":3.4,"y":14},{"k":"d","r":2,"c":2,"i":"f","x":3.8,"y":12},
{"k":"d","r":2,"c":2,"i":"g","x":3.2,"y":16},{"k":"d","r":2,"c":2,"i":"g","x":3.8,"y":11},{"k":"d","r":2,"c":2,"i":"g","x":4.3,"y":11},{"k":"d","r":2,"c":2,"i":"g","x":4.8,"y":9},
{"k":"d","r":2,"c":2,"i":"h","x":0.3,"y":46},{"k":"d","r":2,"c":2,"i":"h","x":0.7,"y":44},{"k":"d","r":2,"c":2,"i":"h","x":1.1,"y":40},{"k":"d","r":2,"c":2,"i":"h","x":1.5,"y":37},{"k":"d","r":2,"c":2,"i":"h","x":1.9,"y":31},{"k":"d","r":2,"c":2,"i":"h","x":2.3,"y":27},{"k":"d","r":2,"c":2,"i":"h","x":2.7,"y":24},
{"k":"d","r":2,"c":2,"i":"i","x":1.2,"y":35},{"k":"d","r":2,"c":2,"i":"i","x":1.6,"y":31},{"k":"d","r":2,"c":2,"i":"i","x":2.0,"y":27},{"k":"d","r":2,"c":2,"i":"i","x":2.5,"y":23},{"k":"d","r":2,"c":2,"i":"i","x":2.9,"y":18},{"k":"d","r":2,"c":2,"i":"i","x":3.4,"y":15},

{"k":"d","r":2,"c":3,"i":"a","x":0.6,"y":46},{"k":"d","r":2,"c":3,"i":"a","x":1.0,"y":44},{"k":"d","r":2,"c":3,"i":"a","x":1.4,"y":43},{"k":"d","r":2,"c":3,"i":"a","x":1.9,"y":40},{"k":"d","r":2,"c":3,"i":"a","x":2.4,"y":39},
{"k":"d","r":2,"c":3,"i":"b","x":0.9,"y":42},{"k":"d","r":2,"c":3,"i":"b","x":1.3,"y":41},{"k":"d","r":2,"c":3,"i":"b","x":1.8,"y":38},{"k":"d","r":2,"c":3,"i":"b","x":2.3,"y":37},{"k":"d","r":2,"c":3,"i":"b","x":2.8,"y":35},
{"k":"d","r":2,"c":3,"i":"c","x":1.5,"y":44},{"k":"d","r":2,"c":3,"i":"c","x":2.0,"y":41},{"k":"d","r":2,"c":3,"i":"c","x":2.6,"y":38},{"k":"d","r":2,"c":3,"i":"c","x":3.1,"y":37},{"k":"d","r":2,"c":3,"i":"c","x":3.6,"y":35},
{"k":"d","r":2,"c":3,"i":"d","x":2.2,"y":36},{"k":"d","r":2,"c":3,"i":"d","x":2.8,"y":34},{"k":"d","r":2,"c":3,"i":"d","x":3.3,"y":33},{"k":"d","r":2,"c":3,"i":"d","x":3.9,"y":31},{"k":"d","r":2,"c":3,"i":"d","x":4.5,"y":32},
{"k":"d","r":2,"c":3,"i":"e","x":3.0,"y":38},{"k":"d","r":2,"c":3,"i":"e","x":3.6,"y":36},{"k":"d","r":2,"c":3,"i":"e","x":4.2,"y":34},{"k":"d","r":2,"c":3,"i":"e","x":4.8,"y":33},{"k":"d","r":2,"c":3,"i":"e","x":5.4,"y":32},
{"k":"d","r":2,"c":3,"i":"f","x":3.8,"y":30},{"k":"d","r":2,"c":3,"i":"f","x":4.4,"y":29},{"k":"d","r":2,"c":3,"i":"f","x":5.0,"y":30},{"k":"d","r":2,"c":3,"i":"f","x":5.7,"y":31},{"k":"d","r":2,"c":3,"i":"f","x":6.3,"y":29},
{"k":"d","r":2,"c":3,"i":"g","x":5.0,"y":34},{"k":"d","r":2,"c":3,"i":"g","x":5.7,"y":33},{"k":"d","r":2,"c":3,"i":"g","x":6.4,"y":32},{"k":"d","r":2,"c":3,"i":"g","x":7.0,"y":31},{"k":"d","r":2,"c":3,"i":"g","x":7.7,"y":32},
{"k":"d","r":2,"c":3,"i":"h","x":6.0,"y":28},{"k":"d","r":2,"c":3,"i":"h","x":6.7,"y":29},{"k":"d","r":2,"c":3,"i":"h","x":7.3,"y":28},{"k":"d","r":2,"c":3,"i":"h","x":7.9,"y":29},
{"k":"d","r":2,"c":3,"i":"i","x":2.5,"y":35},{"k":"d","r":2,"c":3,"i":"i","x":3.0,"y":31},{"k":"d","r":2,"c":3,"i":"i","x":3.5,"y":30},
{"k":"d","r":2,"c":3,"i":"j","x":0.7,"y":44},{"k":"d","r":2,"c":3,"i":"j","x":1.2,"y":42},{"k":"d","r":2,"c":3,"i":"j","x":1.7,"y":41},{"k":"d","r":2,"c":3,"i":"j","x":2.2,"y":38},{"k":"d","r":2,"c":3,"i":"j","x":2.7,"y":37},{"k":"d","r":2,"c":3,"i":"j","x":3.2,"y":34},
{"k":"d","r":2,"c":3,"i":"k","x":4.0,"y":34},{"k":"d","r":2,"c":3,"i":"k","x":4.6,"y":31},{"k":"d","r":2,"c":3,"i":"k","x":5.3,"y":31},{"k":"d","r":2,"c":3,"i":"k","x":6.0,"y":32},{"k":"d","r":2,"c":3,"i":"k","x":6.8,"y":30},{"k":"d","r":2,"c":3,"i":"k","x":7.5,"y":30},{"k":"d","r":2,"c":3,"i":"k","x":8.0,"y":31},

{"k":"d","r":2,"c":4,"i":"a","x":0.8,"y":46},{"k":"d","r":2,"c":4,"i":"a","x":1.1,"y":44},{"k":"d","r":2,"c":4,"i":"a","x":1.5,"y":42},{"k":"d","r":2,"c":4,"i":"a","x":1.9,"y":37},{"k":"d","r":2,"c":4,"i":"a","x":2.3,"y":30},
{"k":"d","r":2,"c":4,"i":"b","x":1.0,"y":45},{"k":"d","r":2,"c":4,"i":"b","x":1.4,"y":41},{"k":"d","r":2,"c":4,"i":"b","x":1.8,"y":36},{"k":"d","r":2,"c":4,"i":"b","x":2.2,"y":28},{"k":"d","r":2,"c":4,"i":"b","x":2.6,"y":21},{"k":"d","r":2,"c":4,"i":"b","x":3.0,"y":17},
{"k":"d","r":2,"c":4,"i":"c","x":1.3,"y":43},{"k":"d","r":2,"c":4,"i":"c","x":1.7,"y":38},{"k":"d","r":2,"c":4,"i":"c","x":2.1,"y":32},{"k":"d","r":2,"c":4,"i":"c","x":2.5,"y":26},{"k":"d","r":2,"c":4,"i":"c","x":2.9,"y":19},
{"k":"d","r":2,"c":4,"i":"d","x":1.8,"y":40},{"k":"d","r":2,"c":4,"i":"d","x":2.2,"y":35},{"k":"d","r":2,"c":4,"i":"d","x":2.6,"y":28},{"k":"d","r":2,"c":4,"i":"d","x":3.0,"y":22},{"k":"d","r":2,"c":4,"i":"d","x":3.4,"y":16},
{"k":"d","r":2,"c":4,"i":"e","x":2.5,"y":31},{"k":"d","r":2,"c":4,"i":"e","x":2.9,"y":24},{"k":"d","r":2,"c":4,"i":"e","x":3.3,"y":18},{"k":"d","r":2,"c":4,"i":"e","x":3.8,"y":16},{"k":"d","r":2,"c":4,"i":"e","x":4.3,"y":15},{"k":"d","r":2,"c":4,"i":"e","x":5.0,"y":14},
{"k":"d","r":2,"c":4,"i":"f","x":3.2,"y":17},{"k":"d","r":2,"c":4,"i":"f","x":3.9,"y":15},{"k":"d","r":2,"c":4,"i":"f","x":4.6,"y":14},{"k":"d","r":2,"c":4,"i":"f","x":5.4,"y":11},{"k":"d","r":2,"c":4,"i":"f","x":6.2,"y":12},
{"k":"d","r":2,"c":4,"i":"g","x":4.5,"y":16},{"k":"d","r":2,"c":4,"i":"g","x":5.3,"y":14},{"k":"d","r":2,"c":4,"i":"g","x":6.0,"y":13},{"k":"d","r":2,"c":4,"i":"g","x":6.6,"y":19},{"k":"d","r":2,"c":4,"i":"g","x":7.1,"y":14},
{"k":"d","r":2,"c":4,"i":"h","x":2.7,"y":20},{"k":"d","r":2,"c":4,"i":"h","x":3.1,"y":16},{"k":"d","r":2,"c":4,"i":"h","x":3.6,"y":14},{"k":"d","r":2,"c":4,"i":"h","x":4.2,"y":13},
{"k":"d","r":2,"c":4,"i":"i","x":0.9,"y":44},{"k":"d","r":2,"c":4,"i":"i","x":1.3,"y":45},{"k":"d","r":2,"c":4,"i":"i","x":1.7,"y":40},{"k":"d","r":2,"c":4,"i":"i","x":2.1,"y":34},{"k":"d","r":2,"c":4,"i":"i","x":2.4,"y":27},{"k":"d","r":2,"c":4,"i":"i","x":2.8,"y":22},
{"k":"d","r":2,"c":4,"i":"j","x":2.0,"y":36},{"k":"d","r":2,"c":4,"i":"j","x":2.3,"y":31},{"k":"d","r":2,"c":4,"i":"j","x":2.7,"y":24},{"k":"d","r":2,"c":4,"i":"j","x":3.1,"y":18},{"k":"d","r":2,"c":4,"i":"j","x":3.6,"y":17},{"k":"d","r":2,"c":4,"i":"j","x":4.3,"y":16},

{"k":"d","r":3,"c":1,"i":"a","x":0.5,"y":46},{"k":"d","r":3,"c":1,"i":"a","x":0.8,"y":45},{"k":"d","r":3,"c":1,"i":"a","x":1.1,"y":43},{"k":"d","r":3,"c":1,"i":"a","x":1.4,"y":40},{"k":"d","r":3,"c":1,"i":"a","x":1.7,"y":36},
{"k":"d","r":3,"c":1,"i":"b","x":0.7,"y":44},{"k":"d","r":3,"c":1,"i":"b","x":1.0,"y":41},{"k":"d","r":3,"c":1,"i":"b","x":1.3,"y":38},{"k":"d","r":3,"c":1,"i":"b","x":1.6,"y":35},{"k":"d","r":3,"c":1,"i":"b","x":1.9,"y":31},{"k":"d","r":3,"c":1,"i":"b","x":2.2,"y":27},
{"k":"d","r":3,"c":1,"i":"c","x":1.0,"y":45},{"k":"d","r":3,"c":1,"i":"c","x":1.4,"y":42},{"k":"d","r":3,"c":1,"i":"c","x":1.8,"y":36},{"k":"d","r":3,"c":1,"i":"c","x":2.2,"y":30},{"k":"d","r":3,"c":1,"i":"c","x":2.6,"y":24},
{"k":"d","r":3,"c":1,"i":"d","x":1.5,"y":37},{"k":"d","r":3,"c":1,"i":"d","x":1.9,"y":33},{"k":"d","r":3,"c":1,"i":"d","x":2.3,"y":27},{"k":"d","r":3,"c":1,"i":"d","x":2.7,"y":22},{"k":"d","r":3,"c":1,"i":"d","x":3.0,"y":17},
{"k":"d","r":3,"c":1,"i":"e","x":2.0,"y":30},{"k":"d","r":3,"c":1,"i":"e","x":2.4,"y":26},{"k":"d","r":3,"c":1,"i":"e","x":2.8,"y":20},{"k":"d","r":3,"c":1,"i":"e","x":3.2,"y":15},{"k":"d","r":3,"c":1,"i":"e","x":3.6,"y":12},{"k":"d","r":3,"c":1,"i":"e","x":4.0,"y":8},
{"k":"d","r":3,"c":1,"i":"f","x":2.5,"y":22},{"k":"d","r":3,"c":1,"i":"f","x":2.8,"y":17},{"k":"d","r":3,"c":1,"i":"f","x":3.0,"y":10},{"k":"d","r":3,"c":1,"i":"f","x":3.4,"y":13},{"k":"d","r":3,"c":1,"i":"f","x":3.8,"y":6},
{"k":"d","r":3,"c":1,"i":"g","x":1.2,"y":38},{"k":"d","r":3,"c":1,"i":"g","x":1.6,"y":32},{"k":"d","r":3,"c":1,"i":"g","x":2.0,"y":26},{"k":"d","r":3,"c":1,"i":"g","x":2.4,"y":20},
{"k":"d","r":3,"c":1,"i":"h","x":3.1,"y":18},{"k":"d","r":3,"c":1,"i":"h","x":3.5,"y":11},{"k":"d","r":3,"c":1,"i":"h","x":3.9,"y":9},{"k":"d","r":3,"c":1,"i":"h","x":4.3,"y":4},
{"k":"d","r":3,"c":1,"i":"i","x":0.6,"y":47},{"k":"d","r":3,"c":1,"i":"i","x":1.0,"y":43},{"k":"d","r":3,"c":1,"i":"i","x":1.4,"y":38},{"k":"d","r":3,"c":1,"i":"i","x":1.8,"y":34},{"k":"d","r":3,"c":1,"i":"i","x":2.2,"y":28},{"k":"d","r":3,"c":1,"i":"i","x":2.6,"y":23},{"k":"d","r":3,"c":1,"i":"i","x":3.0,"y":19},

{"k":"d","r":3,"c":2,"i":"a","x":0.3,"y":45},{"k":"d","r":3,"c":2,"i":"a","x":0.6,"y":42},{"k":"d","r":3,"c":2,"i":"a","x":0.9,"y":38},{"k":"d","r":3,"c":2,"i":"a","x":1.2,"y":33},{"k":"d","r":3,"c":2,"i":"a","x":1.5,"y":28},
{"k":"d","r":3,"c":2,"i":"b","x":0.5,"y":40},{"k":"d","r":3,"c":2,"i":"b","x":0.8,"y":37},{"k":"d","r":3,"c":2,"i":"b","x":1.1,"y":32},{"k":"d","r":3,"c":2,"i":"b","x":1.4,"y":27},{"k":"d","r":3,"c":2,"i":"b","x":1.7,"y":22},{"k":"d","r":3,"c":2,"i":"b","x":2.0,"y":17},
{"k":"d","r":3,"c":2,"i":"c","x":0.9,"y":42},{"k":"d","r":3,"c":2,"i":"c","x":1.2,"y":37},{"k":"d","r":3,"c":2,"i":"c","x":1.5,"y":31},{"k":"d","r":3,"c":2,"i":"c","x":1.8,"y":24},{"k":"d","r":3,"c":2,"i":"c","x":2.1,"y":17},{"k":"d","r":3,"c":2,"i":"c","x":2.4,"y":12},
{"k":"d","r":3,"c":2,"i":"d","x":1.4,"y":30},{"k":"d","r":3,"c":2,"i":"d","x":1.7,"y":24},{"k":"d","r":3,"c":2,"i":"d","x":2.0,"y":19},{"k":"d","r":3,"c":2,"i":"d","x":2.3,"y":13},{"k":"d","r":3,"c":2,"i":"d","x":2.6,"y":8},
{"k":"d","r":3,"c":2,"i":"e","x":1.9,"y":18},{"k":"d","r":3,"c":2,"i":"e","x":2.2,"y":11},{"k":"d","r":3,"c":2,"i":"e","x":2.5,"y":5},{"k":"d","r":3,"c":2,"i":"e","x":2.8,"y":3},
{"k":"d","r":3,"c":2,"i":"f","x":2.4,"y":10},{"k":"d","r":3,"c":2,"i":"f","x":2.8,"y":9},{"k":"d","r":3,"c":2,"i":"f","x":3.3,"y":9},{"k":"d","r":3,"c":2,"i":"f","x":3.8,"y":9},{"k":"d","r":3,"c":2,"i":"f","x":4.1,"y":9},
{"k":"d","r":3,"c":2,"i":"g","x":1.1,"y":36},{"k":"d","r":3,"c":2,"i":"g","x":1.5,"y":29},{"k":"d","r":3,"c":2,"i":"g","x":1.9,"y":22},{"k":"d","r":3,"c":2,"i":"g","x":2.3,"y":15},{"k":"d","r":3,"c":2,"i":"g","x":2.7,"y":11},
{"k":"d","r":3,"c":2,"i":"h","x":0.4,"y":44},{"k":"d","r":3,"c":2,"i":"h","x":0.8,"y":40},{"k":"d","r":3,"c":2,"i":"h","x":1.2,"y":35},{"k":"d","r":3,"c":2,"i":"h","x":1.6,"y":28},{"k":"d","r":3,"c":2,"i":"h","x":1.9,"y":21},{"k":"d","r":3,"c":2,"i":"h","x":2.2,"y":15},{"k":"d","r":3,"c":2,"i":"h","x":2.6,"y":11},

{"k":"d","r":3,"c":3,"i":"a","x":0.3,"y":37},{"k":"d","r":3,"c":3,"i":"a","x":0.6,"y":36},{"k":"d","r":3,"c":3,"i":"a","x":0.9,"y":33},{"k":"d","r":3,"c":3,"i":"a","x":1.2,"y":31},{"k":"d","r":3,"c":3,"i":"a","x":1.5,"y":29},
{"k":"d","r":3,"c":3,"i":"b","x":0.5,"y":32},{"k":"d","r":3,"c":3,"i":"b","x":0.8,"y":34},{"k":"d","r":3,"c":3,"i":"b","x":1.1,"y":31},{"k":"d","r":3,"c":3,"i":"b","x":1.4,"y":27},{"k":"d","r":3,"c":3,"i":"b","x":1.8,"y":25},{"k":"d","r":3,"c":3,"i":"b","x":2.1,"y":23},
{"k":"d","r":3,"c":3,"i":"c","x":0.9,"y":30},{"k":"d","r":3,"c":3,"i":"c","x":1.3,"y":32},{"k":"d","r":3,"c":3,"i":"c","x":1.7,"y":27},{"k":"d","r":3,"c":3,"i":"c","x":2.1,"y":22},{"k":"d","r":3,"c":3,"i":"c","x":2.5,"y":19},{"k":"d","r":3,"c":3,"i":"c","x":2.9,"y":15},
{"k":"d","r":3,"c":3,"i":"d","x":1.6,"y":30},{"k":"d","r":3,"c":3,"i":"d","x":2.0,"y":26},{"k":"d","r":3,"c":3,"i":"d","x":2.4,"y":21},{"k":"d","r":3,"c":3,"i":"d","x":2.8,"y":17},{"k":"d","r":3,"c":3,"i":"d","x":3.1,"y":11},
{"k":"d","r":3,"c":3,"i":"e","x":2.2,"y":24},{"k":"d","r":3,"c":3,"i":"e","x":2.6,"y":20},{"k":"d","r":3,"c":3,"i":"e","x":2.9,"y":17},{"k":"d","r":3,"c":3,"i":"e","x":3.1,"y":14},{"k":"d","r":3,"c":3,"i":"e","x":3.6,"y":15},{"k":"d","r":3,"c":3,"i":"e","x":4.1,"y":15},
{"k":"d","r":3,"c":3,"i":"f","x":3.0,"y":13},{"k":"d","r":3,"c":3,"i":"f","x":3.6,"y":14},{"k":"d","r":3,"c":3,"i":"f","x":4.3,"y":12},{"k":"d","r":3,"c":3,"i":"f","x":4.6,"y":8},

{"k":"d","r":3,"c":4,"i":"a","x":1.0,"y":43},{"k":"d","r":3,"c":4,"i":"a","x":1.5,"y":44},{"k":"d","r":3,"c":4,"i":"a","x":2.0,"y":40},{"k":"d","r":3,"c":4,"i":"a","x":2.5,"y":38},{"k":"d","r":3,"c":4,"i":"a","x":3.0,"y":35},
{"k":"d","r":3,"c":4,"i":"b","x":1.3,"y":45},{"k":"d","r":3,"c":4,"i":"b","x":1.8,"y":41},{"k":"d","r":3,"c":4,"i":"b","x":2.3,"y":37},{"k":"d","r":3,"c":4,"i":"b","x":2.8,"y":33},{"k":"d","r":3,"c":4,"i":"b","x":3.3,"y":31},{"k":"d","r":3,"c":4,"i":"b","x":3.8,"y":25},
{"k":"d","r":3,"c":4,"i":"c","x":2.1,"y":42},{"k":"d","r":3,"c":4,"i":"c","x":2.6,"y":39},{"k":"d","r":3,"c":4,"i":"c","x":3.1,"y":36},{"k":"d","r":3,"c":4,"i":"c","x":3.6,"y":32},{"k":"d","r":3,"c":4,"i":"c","x":4.1,"y":29},
{"k":"d","r":3,"c":4,"i":"d","x":3.5,"y":33},{"k":"d","r":3,"c":4,"i":"d","x":4.0,"y":30},{"k":"d","r":3,"c":4,"i":"d","x":4.5,"y":27},{"k":"d","r":3,"c":4,"i":"d","x":5.0,"y":26},{"k":"d","r":3,"c":4,"i":"d","x":5.5,"y":24},
{"k":"d","r":3,"c":4,"i":"e","x":4.2,"y":33},{"k":"d","r":3,"c":4,"i":"e","x":4.8,"y":28},{"k":"d","r":3,"c":4,"i":"e","x":5.4,"y":25},{"k":"d","r":3,"c":4,"i":"e","x":6.0,"y":22},{"k":"d","r":3,"c":4,"i":"e","x":6.6,"y":21},
{"k":"d","r":3,"c":4,"i":"f","x":5.5,"y":21},{"k":"d","r":3,"c":4,"i":"f","x":6.1,"y":23},{"k":"d","r":3,"c":4,"i":"f","x":6.6,"y":25},{"k":"d","r":3,"c":4,"i":"f","x":7.1,"y":21},{"k":"d","r":3,"c":4,"i":"f","x":7.6,"y":22},
{"k":"d","r":3,"c":4,"i":"g","x":6.3,"y":20},{"k":"d","r":3,"c":4,"i":"g","x":6.9,"y":18},{"k":"d","r":3,"c":4,"i":"g","x":7.5,"y":19},{"k":"d","r":3,"c":4,"i":"g","x":7.9,"y":20},
{"k":"d","r":3,"c":4,"i":"h","x":1.8,"y":43},{"k":"d","r":3,"c":4,"i":"h","x":2.4,"y":41},{"k":"d","r":3,"c":4,"i":"h","x":2.9,"y":37},{"k":"d","r":3,"c":4,"i":"h","x":3.4,"y":34},{"k":"d","r":3,"c":4,"i":"h","x":4.0,"y":32},{"k":"d","r":3,"c":4,"i":"h","x":4.5,"y":28},

{"k":"d","r":4,"c":1,"i":"a","x":1.1,"y":47},{"k":"d","r":4,"c":1,"i":"a","x":1.5,"y":44},{"k":"d","r":4,"c":1,"i":"a","x":1.9,"y":42},{"k":"d","r":4,"c":1,"i":"a","x":2.3,"y":39},{"k":"d","r":4,"c":1,"i":"a","x":2.7,"y":37},
{"k":"d","r":4,"c":1,"i":"b","x":1.7,"y":43},{"k":"d","r":4,"c":1,"i":"b","x":2.1,"y":41},{"k":"d","r":4,"c":1,"i":"b","x":2.5,"y":38},{"k":"d","r":4,"c":1,"i":"b","x":2.9,"y":35},{"k":"d","r":4,"c":1,"i":"b","x":3.3,"y":30},{"k":"d","r":4,"c":1,"i":"b","x":3.7,"y":27},
{"k":"d","r":4,"c":1,"i":"c","x":2.0,"y":45},{"k":"d","r":4,"c":1,"i":"c","x":2.4,"y":40},{"k":"d","r":4,"c":1,"i":"c","x":2.8,"y":36},{"k":"d","r":4,"c":1,"i":"c","x":3.2,"y":32},{"k":"d","r":4,"c":1,"i":"c","x":3.6,"y":28},{"k":"d","r":4,"c":1,"i":"c","x":4.0,"y":24},
{"k":"d","r":4,"c":1,"i":"d","x":2.5,"y":33},{"k":"d","r":4,"c":1,"i":"d","x":2.9,"y":30},{"k":"d","r":4,"c":1,"i":"d","x":3.3,"y":27},{"k":"d","r":4,"c":1,"i":"d","x":3.7,"y":23},{"k":"d","r":4,"c":1,"i":"d","x":4.1,"y":20},{"k":"d","r":4,"c":1,"i":"d","x":4.5,"y":17},
{"k":"d","r":4,"c":1,"i":"e","x":3.0,"y":38},{"k":"d","r":4,"c":1,"i":"e","x":3.4,"y":34},{"k":"d","r":4,"c":1,"i":"e","x":3.8,"y":29},{"k":"d","r":4,"c":1,"i":"e","x":4.2,"y":24},{"k":"d","r":4,"c":1,"i":"e","x":4.6,"y":20},{"k":"d","r":4,"c":1,"i":"e","x":4.9,"y":16},
{"k":"d","r":4,"c":1,"i":"f","x":3.2,"y":22},{"k":"d","r":4,"c":1,"i":"f","x":3.6,"y":18},{"k":"d","r":4,"c":1,"i":"f","x":3.95,"y":16},{"k":"d","r":4,"c":1,"i":"f","x":4.5,"y":19},{"k":"d","r":4,"c":1,"i":"f","x":4.9,"y":21},
{"k":"d","r":4,"c":1,"i":"g","x":4.3,"y":20},{"k":"d","r":4,"c":1,"i":"g","x":4.7,"y":14},{"k":"d","r":4,"c":1,"i":"g","x":5.6,"y":5},
{"k":"d","r":4,"c":1,"i":"h","x":2.2,"y":42},{"k":"d","r":4,"c":1,"i":"h","x":2.6,"y":41},{"k":"d","r":4,"c":1,"i":"h","x":3.0,"y":37},{"k":"d","r":4,"c":1,"i":"h","x":3.5,"y":33},{"k":"d","r":4,"c":1,"i":"h","x":3.9,"y":26},{"k":"d","r":4,"c":1,"i":"h","x":4.4,"y":24},

{"k":"d","r":4,"c":2,"i":"a","x":1.1,"y":37},{"k":"d","r":4,"c":2,"i":"a","x":1.4,"y":38},{"k":"d","r":4,"c":2,"i":"a","x":1.7,"y":35},{"k":"d","r":4,"c":2,"i":"a","x":2.0,"y":30},{"k":"d","r":4,"c":2,"i":"a","x":2.3,"y":24},
{"k":"d","r":4,"c":2,"i":"b","x":1.4,"y":39},{"k":"d","r":4,"c":2,"i":"b","x":1.7,"y":35},{"k":"d","r":4,"c":2,"i":"b","x":2.0,"y":30},{"k":"d","r":4,"c":2,"i":"b","x":2.3,"y":24},{"k":"d","r":4,"c":2,"i":"b","x":2.6,"y":17},{"k":"d","r":4,"c":2,"i":"b","x":2.9,"y":10},
{"k":"d","r":4,"c":2,"i":"c","x":1.5,"y":42},{"k":"d","r":4,"c":2,"i":"c","x":1.8,"y":37},{"k":"d","r":4,"c":2,"i":"c","x":2.1,"y":30},{"k":"d","r":4,"c":2,"i":"c","x":2.4,"y":22},{"k":"d","r":4,"c":2,"i":"c","x":2.7,"y":15},
{"k":"d","r":4,"c":2,"i":"d","x":1.8,"y":33},{"k":"d","r":4,"c":2,"i":"d","x":2.1,"y":27},{"k":"d","r":4,"c":2,"i":"d","x":2.4,"y":19},{"k":"d","r":4,"c":2,"i":"d","x":2.7,"y":12},{"k":"d","r":4,"c":2,"i":"d","x":3.0,"y":7},{"k":"d","r":4,"c":2,"i":"d","x":3.4,"y":4},
{"k":"d","r":4,"c":2,"i":"e","x":2.2,"y":28},{"k":"d","r":4,"c":2,"i":"e","x":2.5,"y":21},{"k":"d","r":4,"c":2,"i":"e","x":2.8,"y":13},{"k":"d","r":4,"c":2,"i":"e","x":3.1,"y":6},
{"k":"d","r":4,"c":2,"i":"f","x":3.3,"y":7},{"k":"d","r":4,"c":2,"i":"f","x":4.0,"y":3},
{"k":"d","r":4,"c":2,"i":"g","x":1.2,"y":40},{"k":"d","r":4,"c":2,"i":"g","x":1.5,"y":37},{"k":"d","r":4,"c":2,"i":"g","x":1.8,"y":34},{"k":"d","r":4,"c":2,"i":"g","x":2.1,"y":27},{"k":"d","r":4,"c":2,"i":"g","x":2.5,"y":19},{"k":"d","r":4,"c":2,"i":"g","x":2.8,"y":14},

{"k":"d","r":4,"c":3,"i":"a","x":0.0,"y":42},{"k":"d","r":4,"c":3,"i":"a","x":0.3,"y":41},{"k":"d","r":4,"c":3,"i":"a","x":0.6,"y":36},{"k":"d","r":4,"c":3,"i":"a","x":0.9,"y":33},{"k":"d","r":4,"c":3,"i":"a","x":1.2,"y":30},
{"k":"d","r":4,"c":3,"i":"b","x":0.4,"y":38},{"k":"d","r":4,"c":3,"i":"b","x":0.8,"y":31},{"k":"d","r":4,"c":3,"i":"b","x":1.1,"y":32},{"k":"d","r":4,"c":3,"i":"b","x":1.4,"y":27},{"k":"d","r":4,"c":3,"i":"b","x":1.8,"y":28},
{"k":"d","r":4,"c":3,"i":"c","x":1.3,"y":29},{"k":"d","r":4,"c":3,"i":"c","x":1.7,"y":27},{"k":"d","r":4,"c":3,"i":"c","x":2.2,"y":25},{"k":"d","r":4,"c":3,"i":"c","x":2.7,"y":27},{"k":"d","r":4,"c":3,"i":"c","x":3.2,"y":24},
{"k":"d","r":4,"c":3,"i":"d","x":2.5,"y":26},{"k":"d","r":4,"c":3,"i":"d","x":3.0,"y":23},{"k":"d","r":4,"c":3,"i":"d","x":3.5,"y":22},{"k":"d","r":4,"c":3,"i":"d","x":4.0,"y":23},{"k":"d","r":4,"c":3,"i":"d","x":4.5,"y":21},
{"k":"d","r":4,"c":3,"i":"e","x":3.8,"y":24},{"k":"d","r":4,"c":3,"i":"e","x":4.2,"y":23},{"k":"d","r":4,"c":3,"i":"e","x":4.6,"y":24},{"k":"d","r":4,"c":3,"i":"e","x":5.0,"y":22},{"k":"d","r":4,"c":3,"i":"e","x":5.4,"y":20},
{"k":"d","r":4,"c":3,"i":"f","x":4.4,"y":20},{"k":"d","r":4,"c":3,"i":"f","x":4.8,"y":19},{"k":"d","r":4,"c":3,"i":"f","x":5.2,"y":17},{"k":"d","r":4,"c":3,"i":"f","x":5.6,"y":21},
{"k":"d","r":4,"c":3,"i":"g","x":5.0,"y":23},{"k":"d","r":4,"c":3,"i":"g","x":5.6,"y":20},{"k":"d","r":4,"c":3,"i":"g","x":6.1,"y":16},{"k":"d","r":4,"c":3,"i":"g","x":6.7,"y":15},{"k":"d","r":4,"c":3,"i":"g","x":7.2,"y":15},

{"k":"d","r":4,"c":4,"i":"a","x":0.9,"y":47},{"k":"d","r":4,"c":4,"i":"a","x":1.4,"y":48},{"k":"d","r":4,"c":4,"i":"a","x":1.9,"y":46},{"k":"d","r":4,"c":4,"i":"a","x":2.4,"y":43},{"k":"d","r":4,"c":4,"i":"a","x":2.9,"y":40},
{"k":"d","r":4,"c":4,"i":"b","x":1.7,"y":46},{"k":"d","r":4,"c":4,"i":"b","x":2.2,"y":44},{"k":"d","r":4,"c":4,"i":"b","x":2.7,"y":41},{"k":"d","r":4,"c":4,"i":"b","x":3.2,"y":37},{"k":"d","r":4,"c":4,"i":"b","x":3.7,"y":31},{"k":"d","r":4,"c":4,"i":"b","x":4.2,"y":25},
{"k":"d","r":4,"c":4,"i":"c","x":2.3,"y":45},{"k":"d","r":4,"c":4,"i":"c","x":2.8,"y":39},{"k":"d","r":4,"c":4,"i":"c","x":3.3,"y":34},{"k":"d","r":4,"c":4,"i":"c","x":3.8,"y":28},{"k":"d","r":4,"c":4,"i":"c","x":4.3,"y":24},{"k":"d","r":4,"c":4,"i":"c","x":4.8,"y":19},
{"k":"d","r":4,"c":4,"i":"d","x":3.0,"y":37},{"k":"d","r":4,"c":4,"i":"d","x":3.5,"y":33},{"k":"d","r":4,"c":4,"i":"d","x":4.0,"y":27},{"k":"d","r":4,"c":4,"i":"d","x":4.5,"y":22},{"k":"d","r":4,"c":4,"i":"d","x":5.0,"y":17},{"k":"d","r":4,"c":4,"i":"d","x":5.6,"y":13},{"k":"d","r":4,"c":4,"i":"d","x":6.4,"y":9},{"k":"d","r":4,"c":4,"i":"d","x":8.0,"y":4},
{"k":"d","r":4,"c":4,"i":"e","x":3.6,"y":34},{"k":"d","r":4,"c":4,"i":"e","x":4.1,"y":29},{"k":"d","r":4,"c":4,"i":"e","x":4.6,"y":20},{"k":"d","r":4,"c":4,"i":"e","x":5.2,"y":15},{"k":"d","r":4,"c":4,"i":"e","x":5.9,"y":11}
]},
"vconcat": [{
  "title": {"text": "22 Total Clusters", "anchor": "end", "fontSize": 14, "fontWeight": "normal", "color": "#262626", "offset": 15},
  "facet": {
    "row": {"field": "r", "type": "ordinal", "header": {"labels": false, "title": "ALSFRS-R Total", "titleFontSize": 17, "titleFontWeight": "normal", "titleColor": "#262626", "titlePadding": -6}},
    "column": {"field": "c", "type": "ordinal", "header": {"labels": false, "title": "Time since Symptom Onset (Years)", "titleOrient": "bottom", "titleFontSize": 17, "titleFontWeight": "normal", "titleColor": "#262626", "titlePadding": -2}}
  },
  "spacing": {"row": 15, "column": 26},
  "spec": {
    "width": 143, "height": 83,
    "layer": [
      {"transform": [{"filter": "datum.k === 'b'"}], "mark": {"type": "area", "clip": true, "color": "#1f77b4", "opacity": 0.22},
       "encoding": {
         "x": {"field": "x", "type": "quantitative", "scale": {"domain": [0, 8], "nice": false}, "axis": {"title": null, "values": [0, 2, 4, 6, 8], "tickCount": 5, "labelOverlap": false, "labelSeparation": -20, "labelFlush": false}},
         "y": {"field": "lo", "type": "quantitative", "scale": {"domain": [-5, 53.6], "nice": false, "zero": false}, "axis": {"title": null, "values": [0, 24, 48], "labelOverlap": false}}, "y2": {"field": "hi"}}},
      {"transform": [{"filter": "datum.k === 'd'"}], "mark": {"type": "line", "strokeWidth": 0.8, "clip": true},
       "encoding": {"x": {"field": "x", "type": "quantitative", "axis": {"title": null, "values": [0, 2, 4, 6, 8], "tickCount": 5, "labelOverlap": false, "labelSeparation": -20, "labelFlush": false}}, "y": {"field": "y", "type": "quantitative"}, "detail": {"field": "i"},
         "color": {"datum": "Data", "scale": {"domain": ["MoGP Prediction", "Data", "First Year Slope"], "range": ["#1f6ea6", "#222222", "#d8453c"]},
           "legend": {"title": null, "encode": {"symbols": {"update": {
             "shape": {"signal": "datum.value === 'Data' ? 'M-1,0L1,0M0.35,0A0.35,0.35,0,1,1,-0.35,0A0.35,0.35,0,1,1,0.35,0Z' : 'stroke'"},
             "fill": {"signal": "datum.value === 'Data' ? '#222222' : 'transparent'"},
             "strokeDash": {"signal": "datum.value === 'First Year Slope' ? [6, 4] : [1, 0]"}}}}}}}},
      {"transform": [{"filter": "datum.k === 'd'"}], "mark": {"type": "point", "filled": true, "size": 26, "color": "#2b2b2b", "opacity": 0.85, "clip": true},
       "encoding": {"x": {"field": "x", "type": "quantitative"}, "y": {"field": "y", "type": "quantitative"}}},
      {"transform": [{"filter": "datum.k === 'b'"}], "mark": {"type": "line", "strokeWidth": 1.5, "clip": true},
       "encoding": {"x": {"field": "x", "type": "quantitative"}, "y": {"field": "m", "type": "quantitative"}, "color": {"datum": "MoGP Prediction"}}},
      {"transform": [{"filter": "datum.k === 's'"}], "mark": {"type": "line", "strokeWidth": 2, "strokeDash": [7, 4], "clip": true},
       "encoding": {"x": {"field": "x", "type": "quantitative"}, "y": {"field": "s", "type": "quantitative"}, "color": {"datum": "First Year Slope"}}},
      {"transform": [{"filter": "datum.k === 'n'"}], "mark": {"type": "text", "align": "left", "baseline": "middle", "fontSize": 12.5, "color": "#262626"},
       "encoding": {"x": {"datum": 0.15, "type": "quantitative"}, "y": {"datum": -0.5, "type": "quantitative"}, "text": {"field": "n", "type": "nominal"}}}
    ]
  }
}],
"config": {
  "font": "Liberation Sans",
  "view": {"stroke": "#666666", "strokeWidth": 1.2},
  "axis": {"grid": false, "ticks": false, "domain": false, "labelFontSize": 13, "labelColor": "#262626", "labelPadding": 6, "labelOverlap": false},
  "axisX": {"labelOverlap": false, "labelSeparation": -20, "tickCount": 5},
  "legend": {
    "orient": "none", "legendX": -19, "legendY": -60, "direction": "horizontal",
    "symbolType": "stroke", "symbolSize": 700, "symbolStrokeWidth": 2.5, "labelFontSize": 13, "labelColor": "#262626", "labelOffset": 8, "columnPadding": 19
  }
}
}
